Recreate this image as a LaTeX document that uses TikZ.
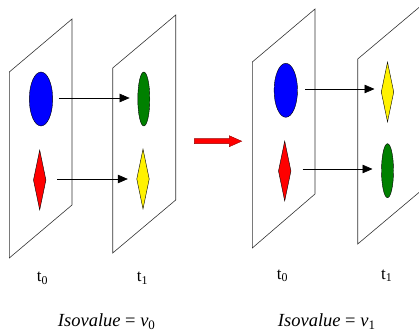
\documentclass[tikz,border=0pt]{standalone}
\usepackage{fontspec}
\setmainfont{Liberation Serif}
\usetikzlibrary{shapes.geometric,arrows.meta}
\definecolor{dgreen}{RGB}{0,128,0}
\tikzset{
  panel/.style={draw=black!80, line width=0.6pt},
  blob/.style={ellipse, draw=black, line width=0.4pt, inner sep=0pt, minimum width=23.4pt, minimum height=54pt},
  thin blob/.style={ellipse, draw=black, line width=0.4pt, inner sep=0pt, minimum width=12pt, minimum height=54pt},
  kite/.style={diamond, draw=black, line width=0.4pt, inner sep=0pt, minimum width=12.6pt, minimum height=60pt},
  link/.style={draw=black, line width=0.6pt, -{Triangle[length=10pt,width=8.5pt]}},
  tlabel/.style={anchor=base, inner sep=0pt, font=\fontsize{17}{20}\selectfont},
  isolabel/.style={anchor=base, inner sep=0pt, font=\fontsize{18.5}{22}\selectfont}
}
\begin{document}
\begin{tikzpicture}[x=1pt,y=-1pt]
\useasboundingbox (0,0) rectangle (419,336);
\clip (0,0) rectangle (419,336);
% panels
\draw[panel] (9.3,72) -- (72,19) -- (72,205) -- (9.3,258) -- cycle;
\draw[panel] (112.7,68) -- (175.7,15) -- (175.7,200) -- (112.7,253) -- cycle;
\draw[panel] (252.3,62) -- (315,9) -- (315,194) -- (252.3,248) -- cycle;
\draw[panel] (357.7,59) -- (420.7,6) -- (420.7,191) -- (357.7,244) -- cycle;
% shapes, left pair
\node[blob, fill=blue] (b1) at (41,99) {};
\node[thin blob, fill=dgreen] (g1) at (143.8,99) {};
\node[kite, fill=red] (r1) at (39.7,180) {};
\node[kite, fill=yellow] (y1) at (143,179) {};
% shapes, right pair
\node[blob, fill=blue] (b2) at (285.8,90.3) {};
\node[kite, fill=red] (r2) at (284.7,171) {};
\node[kite, fill=yellow] (y2) at (387.5,92) {};
\node[thin blob, fill=dgreen] (g2) at (387.5,170.7) {};
% connectors
\draw[link, shorten <=6pt, shorten >=8pt] (b1.east |- 0,98) -- (g1.west |- 0,98);
\draw[link, shorten <=11pt, shorten >=8.7pt] (r1.east |- 0,179) -- (y1.west |- 0,179);
\draw[link, shorten <=7.4pt, shorten >=6.5pt] (b2.east |- 0,89) -- (y2.west |- 0,89);
\draw[link, shorten <=11.3pt, shorten >=8.8pt] (r2.east |- 0,169) -- (g2.west |- 0,169);
% red block arrow
\draw[fill=red, draw=black!40!red, line width=0.4pt]
  (194.3,138.7) -- (229.3,138.7) -- (229.3,135.7) -- (241.7,141.2) -- (229.3,146.7)
  -- (229.3,143.7) -- (194.3,143.7) -- cycle;
% labels
\node[tlabel] (l1) at (42.5,281.7) {t\textsubscript{0}};
\node[tlabel] (l2) at (142.5,281.7) {t\textsubscript{1}};
\node[tlabel] (l3) at (282.5,279.3) {t\textsubscript{0}};
\node[tlabel] (l4) at (386.7,279.3) {t\textsubscript{1}};
\node[isolabel] (i1) at (106.7,326.5) {\textit{Isovalue}\hspace{0.25em}=\hspace{0.25em}\textit{v}\textsubscript{0}};
\node[isolabel] (i2) at (326.7,326.5) {\textit{Isovalue}\hspace{0.25em}=\hspace{0.25em}\textit{v}\textsubscript{1}};
\end{tikzpicture}
\end{document}
